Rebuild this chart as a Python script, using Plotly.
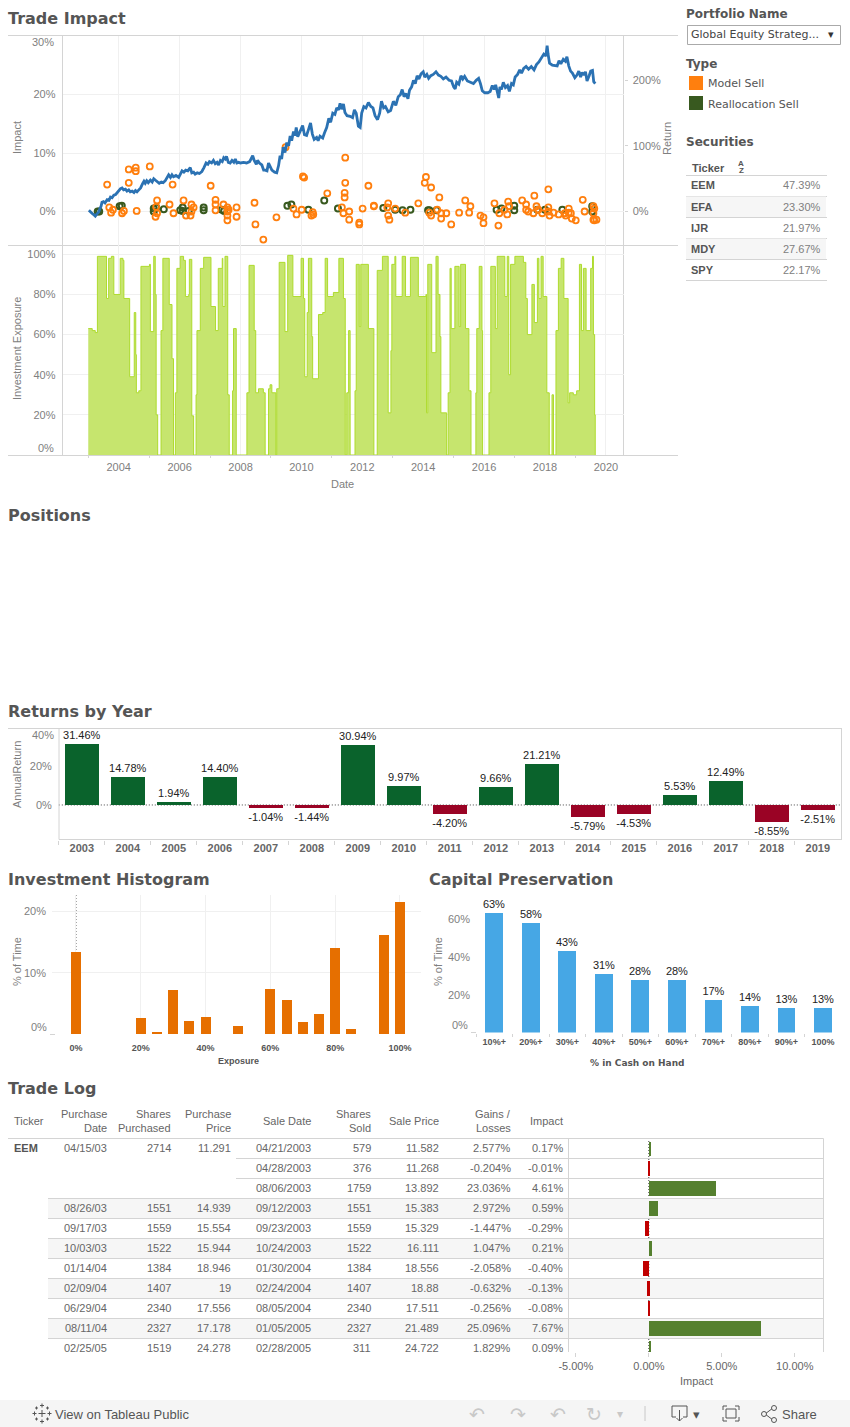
import plotly.graph_objects as go

# ---------- data ----------
return_years = [2003.02,2003.08,2003.13,2003.18,2003.23,2003.28,2003.34,2003.38,2003.42,2003.45,2003.5,2003.55,2003.62,2003.68,2003.73,2003.78,2003.84,2003.9,2003.95,2004.0,2004.06,2004.11,2004.16,2004.22,2004.27,2004.33,2004.38,2004.44,2004.5,2004.55,2004.6,2004.66,2004.72,2004.78,2004.83,2004.87,2004.92,2004.97,2005.04,2005.1,2005.15,2005.2,2005.27,2005.33,2005.4,2005.46,2005.53,2005.58,2005.64,2005.7,2005.75,2005.8,2005.88,2005.97,2006.03,2006.08,2006.14,2006.2,2006.27,2006.35,2006.4,2006.46,2006.51,2006.58,2006.65,2006.73,2006.8,2006.87,2006.93,2006.98,2007.05,2007.11,2007.17,2007.23,2007.28,2007.34,2007.4,2007.45,2007.5,2007.54,2007.6,2007.66,2007.72,2007.78,2007.83,2007.88,2007.94,2008.0,2008.1,2008.2,2008.3,2008.37,2008.4,2008.45,2008.52,2008.56,2008.62,2008.7,2008.76,2008.81,2008.87,2008.92,2008.97,2009.03,2009.12,2009.19,2009.25,2009.3,2009.35,2009.4,2009.46,2009.52,2009.58,2009.63,2009.68,2009.74,2009.79,2009.83,2009.88,2009.96,2010.04,2010.1,2010.17,2010.24,2010.3,2010.36,2010.42,2010.5,2010.55,2010.61,2010.7,2010.76,2010.83,2010.9,2010.96,2011.03,2011.1,2011.16,2011.22,2011.27,2011.32,2011.38,2011.43,2011.5,2011.6,2011.68,2011.74,2011.8,2011.87,2011.93,2011.98,2012.05,2012.12,2012.2,2012.28,2012.35,2012.42,2012.5,2012.57,2012.63,2012.7,2012.76,2012.85,2012.93,2013.02,2013.1,2013.18,2013.25,2013.31,2013.37,2013.43,2013.5,2013.55,2013.62,2013.68,2013.74,2013.8,2013.86,2013.93,2014.0,2014.05,2014.12,2014.18,2014.25,2014.33,2014.42,2014.5,2014.58,2014.66,2014.75,2014.85,2014.93,2015.0,2015.05,2015.1,2015.17,2015.24,2015.3,2015.36,2015.45,2015.55,2015.65,2015.74,2015.82,2015.88,2015.94,2016.02,2016.12,2016.2,2016.27,2016.33,2016.38,2016.43,2016.48,2016.52,2016.57,2016.63,2016.7,2016.77,2016.83,2016.9,2016.96,2017.02,2017.1,2017.17,2017.23,2017.3,2017.38,2017.46,2017.55,2017.64,2017.72,2017.8,2017.88,2017.96,2018.03,2018.07,2018.1,2018.15,2018.24,2018.33,2018.4,2018.46,2018.52,2018.6,2018.67,2018.72,2018.78,2018.84,2018.9,2018.98,2019.05,2019.11,2019.17,2019.22,2019.28,2019.33,2019.38,2019.45,2019.5,2019.56,2019.6,2019.65]
return_pct = [2,0,-3,-5,-7,-4,-1,4,8,14,15,13,18,17,22,21,25,26,29,31,35,36,33,34,31,33,30,31,29,32,30,33,36,42,46,43,47,44,48,45,50,48,46,43,45,44,47,52,56,52,56,53,55,52,58,62,60,63,62,67,59,60,57,59,58,61,67,74,72,76,74,78,73,75,71,78,76,82,80,84,75,74,78,75,80,74,75,74,75,74,76,84,85,78,72,78,74,71,63,63,62,74,70,63,60,59,70,85,80,98,90,105,100,115,108,122,116,128,114,124,131,117,116,126,135,118,110,113,108,115,112,120,128,142,136,150,148,158,155,165,156,164,151,146,145,143,155,150,130,128,150,160,158,166,160,158,146,140,150,168,158,160,152,154,168,162,175,178,186,175,180,172,185,190,200,195,207,202,210,213,205,209,203,207,209,213,208,206,202,205,200,199,190,187,197,194,207,202,206,199,197,195,200,203,195,184,181,181,183,192,186,193,183,173,190,186,197,189,192,183,195,193,205,209,216,211,218,221,217,221,216,224,228,234,240,237,253,240,226,223,222,222,230,225,232,229,236,222,214,211,204,208,214,205,212,208,213,199,207,214,215,198,195]

model_years = [2003.62,2003.69,2003.75,2003.81,2004.11,2004.17,2004.33,2004.33,2004.56,2004.56,2004.59,2005.02,2005.26,2005.23,2005.26,2005.21,2005.67,2005.77,2005.8,2006.13,2006.21,2006.36,2006.39,2006.39,2006.46,2007.02,2007.18,2007.18,2007.18,2007.44,2007.57,2007.57,2007.57,2007.57,2007.61,2007.87,2007.87,2008.46,2008.49,2008.75,2009.18,2009.48,2009.74,2009.84,2010.01,2010.05,2010.09,2010.33,2010.37,2010.39,2010.85,2011.33,2011.38,2011.44,2011.44,2011.42,2011.42,2011.57,2011.57,2011.9,2011.9,2012.01,2012.2,2012.38,2012.38,2012.85,2012.82,2012.85,2012.89,2013.08,2013.41,2013.84,2014.09,2014.05,2014.26,2014.53,2014.2,2014.26,2014.46,2014.59,2014.59,2014.76,2014.92,2015.18,2015.38,2015.51,2015.55,2015.88,2015.98,2015.98,2016.34,2016.47,2016.5,2016.67,2016.76,2016.79,2016.82,2017.25,2017.38,2017.38,2017.45,2017.62,2017.65,2017.72,2017.78,2017.91,2018.11,2018.11,2018.11,2018.15,2018.28,2018.45,2018.65,2018.68,2018.78,2018.78,2018.85,2018.88,2019.01,2019.24,2019.3,2019.59,2019.62,2019.59,2019.59,2019.69,2019.62]
model_impact = [4.6,0.7,-0.2,0.3,-0.3,0.1,7.2,4.9,7.5,6.9,0.1,7.7,1.9,0.8,-0.3,-0.9,1.2,4.6,-0.3,1.9,-0.7,-0.7,1.2,0,0.7,4.4,2.0,1.2,0.2,1.2,0.7,0,-0.7,-1.5,0.3,0.7,-0.9,1.5,-2.2,-4.8,-1.0,11,0.5,-0.5,0.3,6,5.8,-0.7,-0.1,-0.5,3.1,0.7,-0.3,9.2,4.9,3.2,2.4,0,-1.4,-1.9,-2.2,0.5,4.4,1.0,0.9,1.4,0.7,-0.7,-1.4,0.5,-0.2,1.4,5.9,4.9,4.1,2.4,-0.2,-0.7,0.3,-1.2,-0.3,-0.3,-2.2,-0.2,1.9,-0.2,0.9,-0.7,-1.0,-2.0,1.4,-2.4,-0.3,0.3,-0.5,1.7,0.9,1.9,1.2,0.3,0,-0.3,2.7,0.9,0.3,-0.3,3.8,0.7,0,-0.7,-0.2,-0.5,-0.3,-0.7,0.5,-0.2,-0.3,-1.2,-1.5,2.0,0,0.9,0.5,-0.3,-1.4,-1.4,-1.5]

realloc_years = [2003.31,2003.36,2004.03,2004.1,2005.15,2005.15,2005.23,2005.48,2006.02,2006.1,2006.1,2006.3,2006.79,2006.79,2007.39,2007.46,2009.54,2009.67,2010.23,2010.75,2011.2,2012.69,2013.08,2013.32,2013.58,2014.16,2014.2,2014.44,2016.41,2016.57,2016.99,2016.99,2017.75,2018.0,2018.57,2019.55,2019.55]
realloc_impact = [0,0,0.9,1,0.5,0,0.7,0.4,0.2,0.7,0.1,0.1,0.7,0.2,0.3,0.1,1,1.2,0.3,1.9,0.5,0.6,0.3,0.2,0.3,0.2,0.2,0.2,0.3,0.5,1.0,0.2,0.3,0.3,0.3,0.9,0]

exposure_years = [2003.0,2003.13,2003.23,2003.3,2003.6,2003.67,2003.76,2003.84,2004.05,2004.14,2004.17,2004.36,2004.51,2004.56,2004.58,2004.66,2004.73,2005.01,2005.04,2005.15,2005.2,2005.23,2005.28,2005.39,2005.45,2005.66,2005.75,2005.8,2005.86,2005.91,2006.02,2006.13,2006.19,2006.3,2006.32,2006.4,2006.46,2006.54,2006.57,2006.68,2006.79,2007.03,2007.18,2007.27,2007.4,2007.42,2007.49,2007.58,2007.63,2007.74,2007.77,2007.86,2008.21,2008.28,2008.45,2008.5,2008.59,2008.75,2008.81,2008.92,2008.97,2009.03,2009.16,2009.19,2009.27,2009.46,2009.55,2009.72,2009.99,2010.07,2010.11,2010.19,2010.23,2010.34,2010.37,2010.56,2010.7,2010.78,2010.86,2011.05,2011.23,2011.38,2011.44,2011.49,2011.55,2011.6,2011.76,2011.8,2011.9,2011.95,2012.2,2012.38,2012.49,2012.66,2012.85,2012.94,2012.97,2013.07,2013.1,2013.31,2013.42,2013.58,2013.84,2014.09,2014.11,2014.15,2014.28,2014.42,2014.49,2014.55,2014.58,2014.77,2014.82,2014.88,2014.92,2015.04,2015.18,2015.23,2015.39,2015.5,2015.57,2015.73,2015.76,2015.84,2015.93,2015.95,2016.16,2016.22,2016.37,2016.43,2016.68,2016.76,2016.81,2016.87,2017.01,2017.29,2017.37,2017.42,2017.57,2017.65,2017.75,2017.8,2017.87,2017.94,2018.06,2018.14,2018.23,2018.28,2018.36,2018.44,2018.53,2018.62,2018.76,2018.81,2018.93,2019.04,2019.13,2019.2,2019.26,2019.35,2019.5,2019.56,2019.59,2019.63,2019.65]
exposure_pct = [63,62,61,99,78,98,99,80,98,97,78,39,71,50,31,32,94,95,61.5,99,80,20,0,62,98,75,48,0,31,93,99,97,79,80,97.5,19.5,0,30,62,93,98.5,74,62,93,98,74,99,30,0,32,63,0,31,94.5,62,31,33,31,0,33,35,31,0,33,96,61.5,99.5,79,98,78,39,71,98,59,38,70,71,98,79,81,98,78,0,31,62,0,32,95,64,95,63,0,92,99,21,52,95,99,79,99,79,98.5,79,80,21,95,51,99,80,59,21,0,31,93,63,94,64,95,63,32,0,31,63,94,62,0,31,94,63,99,79,99,40,95,99,96,78,60,85,66,98,78,99,79,31,0,30,0,62,93,98,78,26,31,30,32,95,62,93,62,93,99,60,20,0]

years_annual = ["2003","2004","2005","2006","2007","2008","2009","2010","2011","2012","2013","2014","2015","2016","2017","2018","2019"]
annual_return = [31.46,14.78,1.94,14.40,-1.04,-1.44,30.94,9.97,-4.20,9.66,21.21,-5.79,-4.53,5.53,12.49,-8.55,-2.51]

hist_bins = [0,20,25,30,35,40,50,60,65,70,75,80,85,95,100]
hist_time = [13.4,2.6,0.2,7.2,2.1,2.8,1.3,7.4,5.6,2.0,3.3,14.1,0.8,16.1,21.6]

cash_levels = ["10%+","20%+","30%+","40%+","50%+","60%+","70%+","80%+","90%+","100%"]
cash_time = [63,58,43,31,28,28,17,14,13,13]

tickers = ["EEM","EFA","IJR","MDY","SPY"]
ticker_values = ["47.39%","23.30%","21.97%","27.67%","22.17%"]

purchase_date = ["04/15/03","","","08/26/03","09/17/03","10/03/03","01/14/04","02/09/04","06/29/04","08/11/04","02/25/05"]
shares_purchased = ["2714","","","1551","1559","1522","1384","1407","2340","2327","1519"]
purchase_price = ["11.291","","","14.939","15.554","15.944","18.946","19","17.556","17.178","24.278"]
sale_date = ["04/21/2003","04/28/2003","08/06/2003","09/12/2003","09/23/2003","10/24/2003","01/30/2004","02/24/2004","08/05/2004","01/05/2005","02/28/2005"]
shares_sold = ["579","376","1759","1551","1559","1522","1384","1407","2340","2327","311"]
sale_price = ["11.582","11.268","13.892","15.383","15.329","16.111","18.556","18.88","17.511","21.489","24.722"]
gains_losses = ["2.577%","-0.204%","23.036%","2.972%","-1.447%","1.047%","-2.058%","-0.632%","-0.256%","25.096%","1.829%"]
trade_impact = [0.17,-0.01,4.61,0.59,-0.29,0.21,-0.40,-0.13,-0.08,7.67,0.09]

# ---------- helpers ----------
W, H = 850, 1427
GRID, LINE, TICK, TXT, HEAD = "#f0f0f0", "#d4d4d4", "#808080", "#666666", "#555555"
SANS, DEJA = "Liberation Sans", "DejaVu Sans"
DOT = "1px,2px"
ann, shp = [], []

def xd(a, b): return [a / W, b / W]
def yd(top, bot): return [1 - bot / H, 1 - top / H]

def T(x, y, s, size=11, color=TXT, bold=False, anchor="left", fam=SANS, angle=0):
    ann.append(dict(xref="paper", yref="paper", x=x / W, y=1 - y / H, text=f"<b>{s}</b>" if bold else s,
                    showarrow=False, xanchor=anchor, yanchor="middle", borderpad=0, borderwidth=0, textangle=angle,
                    font=dict(family=fam, size=size, color=color)))

def L(x0, y0, x1, y1, color=LINE, w=1, dash="solid", layer="below"):
    shp.append(dict(type="line", xref="paper", yref="paper", x0=x0 / W, x1=x1 / W, y0=1 - y0 / H, y1=1 - y1 / H,
                    line=dict(color=color, width=w, dash=dash), layer=layer))

def R(x0, y0, x1, y1, fill=None, line=None, w=1, layer="below"):
    shp.append(dict(type="rect", xref="paper", yref="paper", x0=x0 / W, x1=x1 / W, y0=1 - y0 / H, y1=1 - y1 / H,
                    fillcolor=fill if fill else "rgba(0,0,0,0)",
                    line=dict(color=line if line else "rgba(0,0,0,0)", width=w), layer=layer))

def zero_h(xa, ya):
    shp.append(dict(type="line", xref=f"{xa} domain", yref=ya, x0=0, x1=1, y0=0, y1=0, layer="below",
                    line=dict(color="#444444", width=1, dash=DOT)))

tickf = dict(family=SANS, size=11, color=TICK)
fig = go.Figure()

# ---------- Trade Impact ----------
fig.add_trace(go.Scatter(x=return_years, y=return_pct, xaxis="x", yaxis="y2", mode="lines",
                         line=dict(color="#2b72b3", width=2.8)))
fig.add_trace(go.Scatter(x=realloc_years, y=realloc_impact, xaxis="x", yaxis="y", mode="markers",
                         marker=dict(symbol="circle-open", size=6, color="#38591f", line=dict(width=2))))
fig.add_trace(go.Scatter(x=model_years, y=model_impact, xaxis="x", yaxis="y", mode="markers",
                         marker=dict(symbol="circle-open", size=6, color="#ff7f0e", line=dict(width=1.8))))
fig.add_trace(go.Scatter(x=exposure_years, y=exposure_pct, xaxis="x2", yaxis="y3", mode="lines",
                         line=dict(color="#aedb2e", width=1, shape="hv"), fill="tozeroy", fillcolor="#c6e56e"))

year_range = [2002.154, 2020.578]
grid_years = list(range(2004, 2021, 2))

# ---------- Returns by Year ----------
fig.add_trace(go.Bar(x=years_annual, y=annual_return, xaxis="x3", yaxis="y4", width=0.76,
                     marker=dict(color=["#0a632c" if v >= 0 else "#9a0325" for v in annual_return], line=dict(width=0)),
                     text=[f"{v:.2f}%" for v in annual_return], textposition="outside", cliponaxis=False,
                     constraintext="none", textfont=dict(family=SANS, size=11, color="#222222")))

# ---------- Investment Histogram ----------
fig.add_trace(go.Bar(x=hist_bins, y=hist_time, xaxis="x4", yaxis="y5", width=3.09,
                     marker=dict(color="#e66f00", line=dict(width=0))))

# ---------- Capital Preservation ----------
fig.add_trace(go.Bar(x=cash_levels, y=cash_time, xaxis="x5", yaxis="y6", width=0.49,
                     marker=dict(color="#46a7e5", line=dict(width=0)),
                     text=[f"{v}%" for v in cash_time], textposition="outside", cliponaxis=False,
                     constraintext="none", textfont=dict(family=SANS, size=11, color="#222222")))

# ---------- Trade Log bars ----------
rows = list(range(len(trade_impact)))
fig.add_trace(go.Bar(x=trade_impact, y=rows, xaxis="x6", yaxis="y7", orientation="h", width=0.75,
                     marker=dict(color=["#55802f" if v >= 0 else "#c00000" for v in trade_impact], line=dict(width=0))))

# zero reference lines
zero_h("x", "y")
zero_h("x3", "y4")
shp.append(dict(type="line", xref="x4", yref="y5 domain", x0=0, x1=0, y0=0, y1=1, layer="below",
                line=dict(color="#444444", width=1, dash=DOT)))
shp.append(dict(type="line", xref="x6", yref="y7 domain", x0=0, x1=0, y0=0, y1=1, layer="below",
                line=dict(color="#444444", width=1, dash=DOT)))

# ---------- section titles ----------
for x, y, s in [(8, 19, "Trade Impact"), (8, 515, "Positions"), (8, 711, "Returns by Year"),
                (8, 879, "Investment Histogram"), (429, 879, "Capital Preservation"), (8, 1088, "Trade Log")]:
    T(x, y, s, size=16, color=HEAD, bold=True, fam=DEJA)

# ---------- Trade Impact furniture ----------
L(8, 35.5, 678, 35.5); L(8, 245.5, 678, 245.5); L(8, 455.5, 678, 455.5)
L(62.5, 35.5, 62.5, 455.5); L(623.5, 35.5, 623.5, 455.5)
T(54, 42, "30%", color=TICK, anchor="right")
T(54, 448, "0%", color=TICK, anchor="right")
T(17, 138, "Impact", size=11, color=TICK, anchor="center", angle=-90)
T(667, 139, "Return", size=11, color=TICK, anchor="center", angle=-90)
T(17, 349, "Investment Exposure", size=11, color=TICK, anchor="center", angle=-90)
T(342, 484, "Date", size=11, color=TICK, anchor="center")

# ---------- sidebar ----------
T(686, 14, "Portfolio Name", size=12, color=HEAD, bold=True, fam=DEJA)
R(687.5, 25.5, 840.5, 44.5, line="#aaaaaa")
T(691, 34.5, "Global Equity Strateg...", size=11, color="#444444", fam=DEJA)
T(831, 34.5, "▾", size=11, color="#333333", anchor="center", fam=DEJA)
T(686, 64, "Type", size=12, color=HEAD, bold=True, fam=DEJA)
R(689, 76, 703, 90, fill="#ff7f0e")
R(689, 96, 703, 110, fill="#38591f")
T(708, 84, "Model Sell", size=11, color=HEAD, fam=DEJA)
T(708, 104, "Reallocation Sell", size=11, color=HEAD, fam=DEJA)
T(686, 142, "Securities", size=12, color=HEAD, bold=True, fam=DEJA)
T(692, 168, "Ticker", size=11, color=HEAD, bold=True)
T(741, 163, "A", size=8, color=HEAD, bold=True, anchor="center")
T(741, 170, "Z", size=8, color=HEAD, bold=True, anchor="center")
sec_line = 175.5
L(686, sec_line, 827, sec_line)
for i, (tk, val) in enumerate(zip(tickers, ticker_values)):
    top = sec_line + 21 * i
    if i % 2 == 1:
        R(686, top, 826, top + 21, fill="#f6f6f6")
    L(686, top + 21, 827, top + 21)
    T(691, top + 10, tk, size=11, color=HEAD, bold=True)
    T(820.5, top + 10, val, size=11, color=TICK, anchor="right")

# ---------- Returns furniture ----------
L(8, 728.5, 842, 728.5); L(59, 728.5, 59, 839.5); L(59, 839.5, 842, 839.5); L(841.5, 728.5, 841.5, 839.5)
T(54, 734.5, "40%", color=TICK, anchor="right")
T(17, 775, "AnnualReturn", size=11, color=TICK, anchor="center", angle=-90)

# ---------- Histogram furniture ----------
L(50, 1034.5, 55, 1034.5)
T(47, 1027, "0%", size=11, color=TICK, anchor="right")
T(17, 962, "% of Time", size=11, color=TICK, anchor="center", angle=-90)
T(238, 1061, "Exposure", size=9, color=HEAD, bold=True, anchor="center")

# ---------- Capital furniture ----------
L(471, 1032.5, 476, 1032.5)
T(468, 1025, "0%", size=11, color=TICK, anchor="right")
T(438, 962, "% of Time", size=11, color=TICK, anchor="center", angle=-90)
T(637, 1063, "% in Cash on Hand", size=9, color=HEAD, bold=True, anchor="center", fam=DEJA)

# ---------- Trade Log table ----------
row_top, row_h = 1138.5, 20
for i in (3, 5, 7, 9):
    R(48, row_top + i * row_h, 823, row_top + (i + 1) * row_h, fill="#f6f6f6")
L(8, row_top, 823.5, row_top)
for i in range(1, 11):
    L(236 if i < 3 else 48, row_top + i * row_h, 823.5, row_top + i * row_h)
L(568.5, row_top, 568.5, 1352); L(823.5, row_top, 823.5, 1352)

T(14, 1121, "Ticker", color=TXT)
for x, lines in [(107, ["Purchase", "Date"]), (171, ["Shares", "Purchased"]), (231, ["Purchase", "Price"]),
                 (311, ["Sale Date"]), (371, ["Shares", "Sold"]), (439, ["Sale Price"]),
                 (510.5, ["Gains /", "Losses"]), (563, ["Impact"])]:
    if len(lines) == 2:
        T(x, 1114, lines[0], anchor="right"); T(x, 1127.5, lines[1], anchor="right")
    else:
        T(x, 1121, lines[0], anchor="right")
T(14, 1148, "EEM", size=11, color=HEAD, bold=True)
columns = [(107, purchase_date), (171, shares_purchased), (231, purchase_price), (311, sale_date),
           (371, shares_sold), (439, sale_price), (510.5, gains_losses),
           (563, [f"{v:.2f}%" for v in trade_impact])]
for x, col in columns:
    for i, s in enumerate(col):
        if s:
            T(x, 1148 + i * row_h, s, anchor="right")
T(696, 1381, "Impact", size=11, color=TXT, anchor="center")

# ---------- footer ----------
R(0, 1400, 850, 1427, fill="#f5f5f5")
C = "#555555"
for cx, cy, r in [(42, 1413.5, 3.5), (42, 1405.5, 2), (42, 1421.5, 2), (34.5, 1413.5, 2), (49.5, 1413.5, 2),
                  (36.5, 1408, 1.5), (47.5, 1408, 1.5), (36.5, 1419, 1.5), (47.5, 1419, 1.5)]:
    L(cx - r, cy, cx + r, cy, color=C, layer="above"); L(cx, cy - r, cx, cy + r, color=C, layer="above")
T(55, 1414, "View on Tableau Public", size=13, color=C)
for x, g in [(477, "↶"), (518, "↷"), (558, "↶"), (594, "↻")]:
    T(x, 1414, g, size=19, color="#c8c8c8", anchor="center", fam=DEJA)
T(620, 1414, "▾", size=12, color="#c8c8c8", anchor="center", fam=DEJA)
L(645, 1406, 645, 1421, color="#c8c8c8", layer="above")
# download icon
L(672, 1406, 687, 1406, color=C, layer="above"); L(672, 1406, 672, 1417, color=C, layer="above")
L(687, 1406, 687, 1417, color=C, layer="above"); L(672, 1417, 676, 1417, color=C, layer="above")
L(683, 1417, 687, 1417, color=C, layer="above"); L(679.5, 1410, 679.5, 1421, color=C, layer="above")
L(676.5, 1418, 679.5, 1421, color=C, layer="above"); L(682.5, 1418, 679.5, 1421, color=C, layer="above")
T(696, 1414, "▾", size=13, color=C, anchor="center", fam=DEJA)
# fullscreen icon
R(726, 1409, 736, 1418, line=C, layer="above")
for x0, x1, y in [(723, 739, 1406), (723, 739, 1421)]:
    L(x0, y, x0 + 4, y, color=C, layer="above"); L(x1 - 4, y, x1, y, color=C, layer="above")
L(723, 1406, 723, 1410, color=C, layer="above"); L(739, 1406, 739, 1410, color=C, layer="above")
L(723, 1417, 723, 1421, color=C, layer="above"); L(739, 1417, 739, 1421, color=C, layer="above")
# share icon
L(765, 1414, 773, 1408, color=C, layer="above"); L(765, 1414, 773, 1420, color=C, layer="above")
for cx, cy in [(764, 1414), (774, 1408), (774, 1420)]:
    shp.append(dict(type="circle", xref="paper", yref="paper", x0=(cx - 2.5) / W, x1=(cx + 2.5) / W,
                    y0=1 - (cy + 2.5) / H, y1=1 - (cy - 2.5) / H, fillcolor="#f5f5f5",
                    line=dict(color=C, width=1), layer="above"))
T(782, 1414, "Share", size=13, color=C)

# ---------- layout ----------
hidden = dict(showgrid=False, zeroline=False, showline=False, showticklabels=False, ticks="")
fig.update_layout(
    width=W, height=H, margin=dict(l=0, r=0, t=0, b=0, autoexpand=False), paper_bgcolor="white", plot_bgcolor="rgba(0,0,0,0)",
    showlegend=False, bargap=0, annotations=ann, shapes=shp,
    font=dict(family=SANS, size=11, color=TICK),
    xaxis=dict(domain=xd(62.5, 623.5), range=year_range, anchor="y", tickvals=grid_years, showticklabels=False,
               showgrid=True, gridcolor=GRID, zeroline=False, ticks=""),
    yaxis=dict(domain=yd(35.5, 245.5), range=[-5.81, 30.085], tickvals=[0, 10, 20], ticktext=["0%", "10%", "20%"],
               showgrid=True, gridcolor=GRID, zeroline=False, ticks="", tickfont=tickf, ticklabelstandoff=6, anchor="x"),
    yaxis2=dict(domain=yd(35.5, 245.5), range=[-51.8, 268.3], overlaying="y", side="right", anchor="x",
                tickvals=[0, 100, 200], ticktext=["0%", "100%", "200%"], showgrid=False, zeroline=False,
                ticks="outside", ticklen=3, tickcolor=LINE, tickfont=tickf, ticklabelstandoff=3),
    xaxis2=dict(domain=xd(62.5, 623.5), range=year_range, anchor="y3", tick0=2004, dtick=2, tickformat="d",
                showgrid=True, gridcolor=GRID, zeroline=False, ticks="", tickfont=tickf, ticklabelstandoff=4,
                minor=dict(tick0=2003, dtick=1, ticks="outside", ticklen=2, tickcolor=LINE, showgrid=False)),
    yaxis3=dict(domain=yd(245.5, 455), range=[0, 104.4], tickvals=[20, 40, 60, 80, 100],
                ticktext=["20%", "40%", "60%", "80%", "100%"], showgrid=True, gridcolor=GRID, zeroline=False,
                ticks="", tickfont=tickf, ticklabelstandoff=6, anchor="x2"),
    xaxis3=dict(domain=xd(58.8, 840.8), range=[-0.5, 16.5], type="category", anchor="y4", tickson="boundaries",
                ticks="outside", ticklen=4, tickcolor=LINE, showgrid=False, zeroline=False,
                tickfont=dict(family=SANS, size=11, color="#666666", weight="bold"), ticklabelstandoff=0),
    yaxis4=dict(domain=yd(728.5, 839.5), range=[-17.7, 39.2], tickvals=[0, 20], ticktext=["0%", "20%"],
                showgrid=False, zeroline=False, ticks="", tickfont=tickf, ticklabelstandoff=6, anchor="x3"),
    xaxis4=dict(domain=xd(52, 421), range=[-7.4, 106.5], tickvals=[0, 20, 40, 60, 80, 100],
                ticktext=["0%", "20%", "40%", "60%", "80%", "100%"], anchor="y5",
                showgrid=True, gridcolor=GRID, zeroline=False, ticks="", ticklabelstandoff=7,
                tickfont=dict(family=SANS, size=9, color="#555555", weight="bold")),
    yaxis5=dict(domain=yd(895, 1034), range=[0, 22.7], tickvals=[10, 20], ticktext=["10%", "20%"],
                showgrid=True, gridcolor=GRID, zeroline=False, ticks="", tickfont=tickf, ticklabelstandoff=5, anchor="x4"),
    xaxis5=dict(domain=xd(476, 841.3), range=[-0.5, 9.5], type="category", anchor="y6", tickson="boundaries",
                ticks="outside", ticklen=3, tickcolor=LINE, showgrid=False, zeroline=False, ticklabelstandoff=2,
                tickfont=dict(family=SANS, size=9, color="#555555", weight="bold")),
    yaxis6=dict(domain=yd(897, 1032.5), range=[0, 71.6], tickvals=[20, 40, 60], ticktext=["20%", "40%", "60%"],
                showgrid=False, zeroline=False, ticks="", tickfont=tickf, ticklabelstandoff=5, anchor="x5"),
    xaxis6=dict(domain=xd(567.8, 822.8), range=[-5.55, 11.92], anchor="y7", tickvals=[-5, 0, 5, 10],
                ticktext=["-5.00%", "0.00%", "5.00%", "10.00%"], showgrid=False, zeroline=False,
                ticks="outside", ticklen=4, tickcolor=LINE, tickfont=dict(family=SANS, size=11, color=TXT)),
    yaxis7=dict(domain=yd(1138.5, 1352), range=[10.185, -0.5], anchor="x6", **hidden),
)

fig.write_html("out.html", config=dict(displayModeBar=False),
               post_script="document.body.style.margin='0';document.body.style.overflow='hidden';")
